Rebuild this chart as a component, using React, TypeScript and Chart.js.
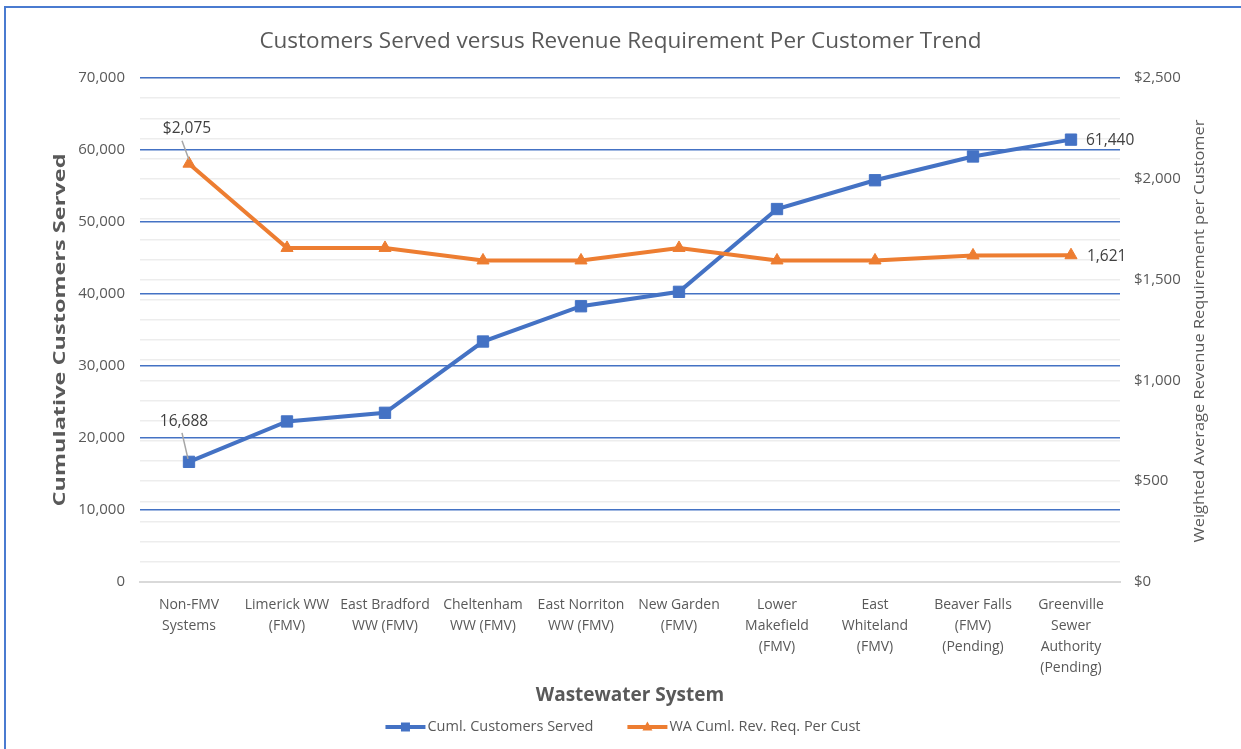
import { useEffect, useRef } from 'react';
import { Chart, registerables } from 'chart.js';

Chart.register(...registerables);

const categories: string[][] = [
  ['Non-FMV', 'Systems'],
  ['Limerick WW', '(FMV)'],
  ['East Bradford', 'WW (FMV)'],
  ['Cheltenham', 'WW (FMV)'],
  ['East Norriton', 'WW (FMV)'],
  ['New Garden', '(FMV)'],
  ['Lower', 'Makefield', '(FMV)'],
  ['East', 'Whiteland', '(FMV)'],
  ['Beaver Falls', '(FMV)', '(Pending)'],
  ['Greenville', 'Sewer', 'Authority', '(Pending)'],
];

const customersServed = [16688, 22300, 23500, 33400, 38300, 40300, 51800, 55800, 59100, 61440];
const revReqPerCustomer = [2075, 1657, 1657, 1595, 1595, 1657, 1595, 1595, 1620, 1621];

const leftTickLabels = ['0', '10,000', '20,000', '30,000', '40,000', '50,000', '60,000', '70,000'];
const rightTickLabels = ['$0', '$500', '$1,000', '$1,500', '$2,000', '$2,500'];

const seriesNames = ['Cuml. Customers Served', 'WA Cuml. Rev. Req. Per Cust'];
const titleText = 'Customers Served versus Revenue Requirement Per Customer Trend';
const xTitleText = 'Wastewater System';
const leftTitleText = 'Cumulative Customers Served';
const rightTitleText = 'Weighted Average Revenue Requirement per Customer';

const FONT = '"Open Sans", "Liberation Sans", sans-serif';
const BLUE = '#4472C4';
const ORANGE = '#ED7D31';
const TEXT = '#595959';
const LABEL = '#404040';

function drawVertical(
  ctx: CanvasRenderingContext2D,
  text: string,
  cx: number,
  cy: number,
  font: string,
  color: string,
  length: number
) {
  ctx.save();
  ctx.font = font;
  ctx.fillStyle = color;
  ctx.translate(cx, cy);
  ctx.rotate(-Math.PI / 2);
  const w = ctx.measureText(text).width;
  ctx.scale(length / w, 1);
  ctx.textAlign = 'center';
  ctx.textBaseline = 'middle';
  ctx.fillText(text, 0, 0);
  ctx.restore();
}

const decor = {
  id: 'decor',
  beforeDraw(chart: any) {
    const { ctx, width, height } = chart;
    ctx.save();
    ctx.fillStyle = '#ffffff';
    ctx.fillRect(0, 0, width, height);
    ctx.fillStyle = '#4a7bd0';
    ctx.fillRect(4, 6, width - 4, 2);
    ctx.fillRect(4, 6, 2, height - 6);
    ctx.restore();
  },
  afterDraw(chart: any) {
    const { ctx, chartArea } = chart;
    const cy = (chartArea.top + chartArea.bottom) / 2;
    drawVertical(ctx, leftTitleText, 60, cy, `bold 16px ${FONT}`, TEXT, 353);
    drawVertical(ctx, rightTitleText, 1200, cy + 1, `15px ${FONT}`, TEXT, 423);

    const m0 = chart.getDatasetMeta(0).data;
    const m1 = chart.getDatasetMeta(1).data;
    ctx.save();
    ctx.font = `15.5px ${FONT}`;
    ctx.fillStyle = LABEL;
    ctx.textBaseline = 'middle';
    // first-point labels with leader lines
    const b0 = m0[0];
    const o0 = m1[0];
    ctx.textAlign = 'center';
    ctx.fillText(customersServed[0].toLocaleString('en-US'), b0.x - 5, b0.y - 40);
    ctx.fillText('$' + revReqPerCustomer[0].toLocaleString('en-US'), o0.x - 2, o0.y - 35);
    ctx.strokeStyle = '#a6a6a6';
    ctx.lineWidth = 1.5;
    ctx.beginPath();
    ctx.moveTo(b0.x - 7, b0.y - 29);
    ctx.lineTo(b0.x - 1, b0.y - 3);
    ctx.moveTo(o0.x - 7, o0.y - 23);
    ctx.lineTo(o0.x, o0.y - 4);
    ctx.stroke();
    // last-point labels
    const bl = m0[m0.length - 1];
    const ol = m1[m1.length - 1];
    ctx.textAlign = 'left';
    ctx.fillText(customersServed[customersServed.length - 1].toLocaleString('en-US'), bl.x + 15, bl.y + 1);
    ctx.fillText(revReqPerCustomer[revReqPerCustomer.length - 1].toLocaleString('en-US'), ol.x + 16, ol.y + 1);

    // legend
    ctx.font = `14.5px ${FONT}`;
    const ly = 727;
    const lineLen = 40;
    const gap = 2;
    const itemGap = 34;
    const widths = seriesNames.map((s) => ctx.measureText(s).width);
    const total = widths.reduce((a, b) => a + b, 0) + 2 * (lineLen + gap) + itemGap;
    let x = (chartArea.left + chartArea.right) / 2 - 7 - total / 2;
    const colors = [BLUE, ORANGE];
    seriesNames.forEach((name, i) => {
      ctx.strokeStyle = colors[i];
      ctx.fillStyle = colors[i];
      ctx.lineWidth = 4;
      ctx.beginPath();
      ctx.moveTo(x, ly);
      ctx.lineTo(x + lineLen, ly);
      ctx.stroke();
      const mx = x + lineLen / 2;
      ctx.beginPath();
      if (i === 0) {
        ctx.rect(mx - 4.5, ly - 4.5, 9, 9);
      } else {
        ctx.moveTo(mx, ly - 5.5);
        ctx.lineTo(mx + 5, ly + 3.5);
        ctx.lineTo(mx - 5, ly + 3.5);
        ctx.closePath();
      }
      ctx.fill();
      ctx.fillStyle = TEXT;
      ctx.textAlign = 'left';
      ctx.fillText(name, x + lineLen + gap, ly);
      x += lineLen + gap + widths[i] + itemGap;
    });
    ctx.restore();
  },
};

export default function App() {
  const canvasRef = useRef<HTMLCanvasElement | null>(null);

  useEffect(() => {
    const canvas = canvasRef.current;
    if (!canvas) return;
    const chart = new Chart(canvas, {
      type: 'line',
      data: {
        labels: categories,
        datasets: [
          {
            label: seriesNames[0],
            data: customersServed,
            yAxisID: 'y',
            borderColor: BLUE,
            backgroundColor: BLUE,
            borderWidth: 4,
            pointStyle: 'rect',
            pointRadius: 8,
            pointBorderWidth: 1,
            tension: 0,
            order: 2,
          },
          {
            label: seriesNames[1],
            data: revReqPerCustomer,
            yAxisID: 'y1',
            borderColor: ORANGE,
            backgroundColor: ORANGE,
            borderWidth: 4,
            pointStyle: 'triangle',
            pointRadius: 7,
            pointBorderWidth: 1,
            tension: 0,
            order: 1,
          },
        ],
      },
      options: {
        animation: false,
        responsive: true,
        maintainAspectRatio: false,
        layout: { padding: 0 },
        plugins: {
          legend: { display: false },
          tooltip: { enabled: false },
          title: {
            display: true,
            text: titleText,
            color: TEXT,
            font: { family: FONT, size: 22.5, weight: 'normal' },
            padding: { top: 28.5, bottom: 22.5 },
          },
        },
        scales: {
          x: {
            offset: true,
            grid: { display: false, drawTicks: false },
            border: { display: true, color: '#d9d9d9', width: 2 },
            ticks: {
              color: TEXT,
              font: { family: FONT, size: 14, lineHeight: 1.5 },
              padding: 13,
              maxRotation: 0,
              autoSkip: false,
            },
            title: {
              display: true,
              text: xTitleText,
              color: TEXT,
              font: { family: FONT, size: 19, weight: 'bold' },
              padding: { top: 0, bottom: 42 },
            },
            afterFit: (scale: any) => {
              scale.height = 167;
            },
          },
          y: {
            position: 'left',
            min: 0,
            max: 70000,
            grid: {
              drawTicks: false,
              z: -1,
              color: (c: any) => (c.tick && c.tick.value === 0 ? 'rgba(0,0,0,0)' : BLUE),
              lineWidth: 1.5,
            },
            border: { display: false },
            ticks: {
              stepSize: 10000,
              color: TEXT,
              font: { family: FONT, size: 15 },
              padding: 15,
              autoSkip: false,
              callback: (_v: any, i: number) => leftTickLabels[i],
            },
            afterFit: (scale: any) => {
              scale.width = 140;
            },
          },
          y1: {
            position: 'right',
            min: 0,
            max: 2500,
            grid: {
              drawTicks: false,
              z: -2,
              color: (c: any) => (c.tick && c.tick.value === 0 ? 'rgba(0,0,0,0)' : '#ededed'),
              lineWidth: 1.5,
            },
            border: { display: false },
            ticks: {
              stepSize: 100,
              color: TEXT,
              font: { family: FONT, size: 15 },
              padding: 14,
              autoSkip: false,
              callback: (v: any) => {
                const n = Number(v);
                return n % 500 === 0 ? rightTickLabels[n / 500] : '';
              },
            },
            afterFit: (scale: any) => {
              scale.width = 121;
            },
          },
        },
      },
      plugins: [decor],
    });
    return () => chart.destroy();
  }, []);

  return (
    <div style={{ position: 'fixed', left: 0, top: 0, width: 1241, height: 749, background: '#fff' }}>
      <canvas ref={canvasRef} />
    </div>
  );
}
